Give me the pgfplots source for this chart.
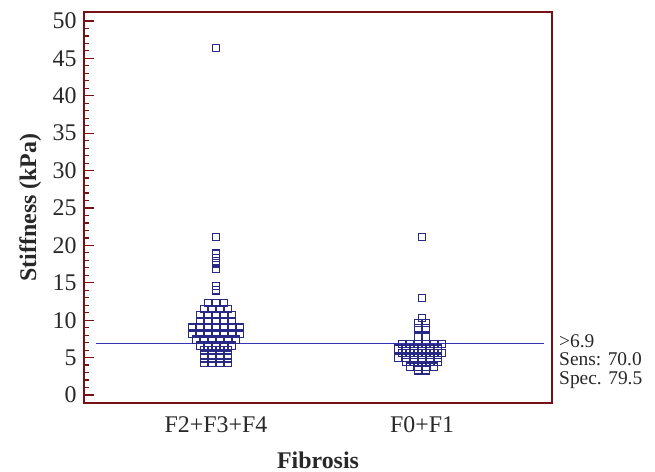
\documentclass[border=0pt]{standalone}
\usepackage{fontspec}
\setmainfont{Liberation Serif}
\usepackage{pgfplots}
\pgfplotsset{compat=1.18}
\usetikzlibrary{calc}
\definecolor{frame}{RGB}{118,18,22}
\definecolor{markblue}{RGB}{40,40,135}
\definecolor{lineblue}{RGB}{50,50,185}
\definecolor{txt}{RGB}{40,40,40}
\begin{document}
\begin{tikzpicture}
\begin{axis}[
  name=ax,
  scale only axis,
  width=468bp, height=391bp,
  xmin=0.359, xmax=2.631,
  ymin=-1.07, ymax=51.2,
  axis line style={draw=frame, line width=1.6bp},
  xtick={1,2}, xticklabels={F2+F3+F4, F0+F1},
  x tick style={draw=none},
  ytick={0,5,...,50},
  minor y tick num=4,
  ytick pos=left,
  tick align=inside,
  y tick style={draw=frame, line width=1.2bp},
  major tick length=10bp, minor tick length=5bp,
  tick label style={font=\fontsize{24}{28}\selectfont, text=txt},
  yticklabel style={xshift=-4bp},
  xticklabel style={yshift=-10bp},
  /pgf/number format/assume math mode=true,
  xlabel={Fibrosis}, ylabel={Stiffness (kPa)},
  label style={font=\fontsize{24}{28}\selectfont\bfseries, text=txt},
  xlabel style={at={(axis description cs:0.5,-0.146)}, anchor=center},
  ylabel style={at={(axis description cs:-0.115,0.5)}, anchor=center},
  clip=false,
]
% cut-off line
\addplot[color=lineblue, mark=none, line width=1.2bp] coordinates {(0.417,6.9) (2.59,6.9)};

% F2+F3+F4
\addplot[only marks, mark=square, mark size=3.6bp, color=markblue, mark options={line width=1.3bp}] coordinates {
  (1,46.4) (1,21.1) (1,18.9) (1,18.3) (1,17.6) (1,16.9) (1,14.6) (1,14.0)
  (0.961,12.3) (1,12.3) (1.039,12.3)
  (0.9415,11.5) (0.9805,11.5) (1.0195,11.5) (1.0585,11.5)
  (0.922,10.7) (0.961,10.7) (1,10.7) (1.039,10.7) (1.078,10.7)
  (0.922,9.9) (0.961,9.9) (1,9.9) (1.039,9.9) (1.078,9.9)
  (0.883,9.0) (0.922,9.0) (0.961,9.0) (1,9.0) (1.039,9.0) (1.078,9.0) (1.117,9.0)
  (0.883,8.2) (0.922,8.2) (0.961,8.2) (1,8.2) (1.039,8.2) (1.078,8.2) (1.117,8.2)
  (0.9025,7.4) (0.9415,7.4) (0.9805,7.4) (1.0195,7.4) (1.0585,7.4) (1.0975,7.4)
  (0.922,6.6) (0.961,6.6) (1,6.6) (1.039,6.6) (1.078,6.6)
  (0.9415,6.0) (0.9805,6.0) (1.0195,6.0) (1.0585,6.0)
  (0.9415,5.4) (0.9805,5.4) (1.0195,5.4) (1.0585,5.4)
  (0.9415,4.9) (0.9805,4.9) (1.0195,4.9) (1.0585,4.9)
  (0.9415,4.3) (0.9805,4.3) (1.0195,4.3) (1.0585,4.3)
};

% F0+F1
\addplot[only marks, mark=square, mark size=3.6bp, color=markblue, mark options={line width=1.3bp}] coordinates {
  (2,21.1) (2,13.0) (2,10.3)
  (1.9805,9.6) (2.0195,9.6)
  (1.9805,8.9) (2.0195,8.9)
  (1.9805,7.8) (2.0195,7.8)
  (1.9025,6.8) (1.9415,6.8) (1.9805,6.8) (2.0195,6.8) (2.0585,6.8) (2.0975,6.8)
  (1.922,6.2) (1.961,6.2) (2,6.2) (2.039,6.2) (2.078,6.2) (1.883,6.2)
  (1.9025,5.6) (1.9415,5.6) (1.9805,5.6) (2.0195,5.6) (2.0585,5.6) (2.0975,5.6)
  (1.883,5.0) (1.922,5.0) (1.961,5.0) (2,5.0) (2.039,5.0) (2.078,5.0)
  (1.922,4.4) (1.961,4.4) (2,4.4) (2.039,4.4) (2.078,4.4)
  (1.9415,3.8) (1.9805,3.8) (2.0195,3.8) (2.0585,3.8)
  (1.9805,3.3) (2.0195,3.3)
};
\end{axis}
\node[anchor=north west, inner sep=0, align=left, font=\fontsize{19.5}{19}\selectfont, text=txt]
  at ($(ax.north east)+(7bp,-322bp)$) {>6.9\\Sens: 70.0\\Spec. 79.5};
\path ($(ax.south west)+(-84bp,-69bp)$) rectangle ($(ax.north east)+(103bp,12bp)$);
\end{tikzpicture}
\end{document}
